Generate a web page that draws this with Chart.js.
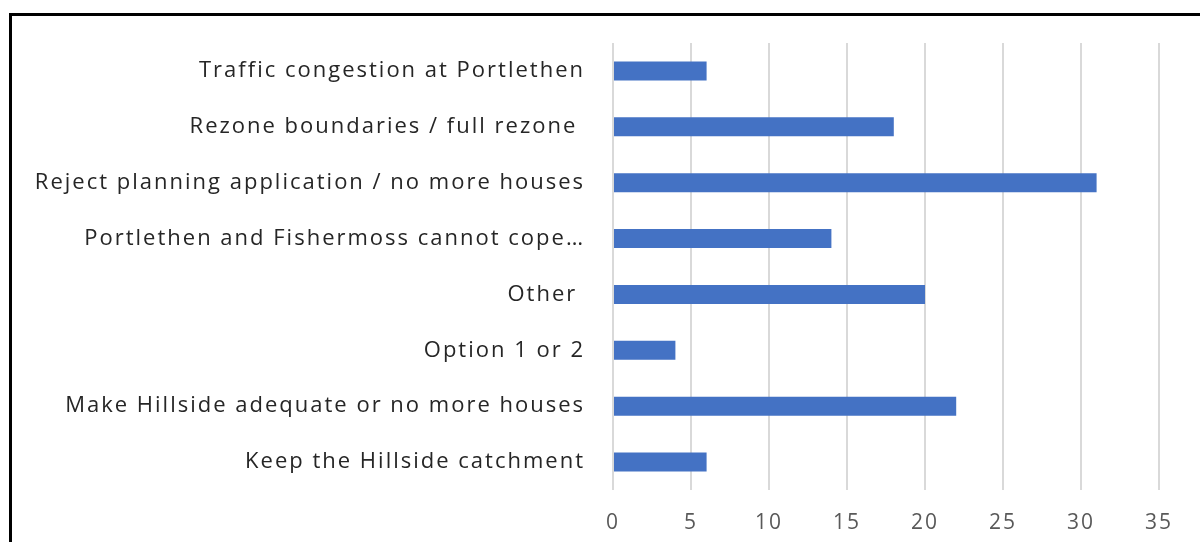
<!DOCTYPE html>
<html lang="en">
<head>
  <meta charset="UTF-8" />
  <title>Responses</title>
  <script src="https://cdn.jsdelivr.net/npm/chart.js"></script>
  <style>
    html, body { margin: 0; padding: 0; background: #fff; }
    #wrap { position: relative; width: 1200px; height: 542px; overflow: hidden; }
    canvas { position: absolute; left: 0; top: 0; }
    #frame { position: absolute; left: 9px; top: 13px; width: 1300px; height: 600px;
             border-top: 3px solid #000; border-left: 3px solid #000; pointer-events: none; }
  </style>
</head>
<body>
<div id="wrap">
  <canvas id="chart" width="1200" height="542"></canvas>
  <div id="frame"></div>
</div>
<script>
  const categories = [
    'Traffic congestion at Portlethen',
    'Rezone boundaries / full rezone ',
    'Reject planning application / no more houses',
    'Portlethen and Fishermoss cannot cope…',
    'Other ',
    'Option 1 or 2',
    'Make Hillside adequate or no more houses',
    'Keep the Hillside catchment'
  ];
  const counts = [6, 18, 31, 14, 20, 4, 22, 6];
  const xTicks = [0, 5, 10, 15, 20, 25, 30, 35];

  const fontFamily = '"Open Sans", "Noto Sans", sans-serif';

  // the source picture has slightly stretched text, widen it a bit
  const wideText = {
    id: 'wideText',
    beforeDraw(chart) { chart.ctx.letterSpacing = '2px'; }
  };

  new Chart(document.getElementById('chart').getContext('2d'), {
    type: 'bar',
    data: {
      labels: categories,
      datasets: [{
        data: counts,
        backgroundColor: '#4472c4',
        borderWidth: 0,
        barPercentage: 0.34,
        categoryPercentage: 1
      }]
    },
    options: {
      indexAxis: 'y',
      responsive: false,
      animation: false,
      layout: { padding: { left: 0, top: 43, right: 41, bottom: 0 } },
      plugins: { legend: { display: false }, tooltip: { enabled: false } },
      scales: {
        x: {
          min: 0,
          max: xTicks[xTicks.length - 1],
          afterBuildTicks: s => { s.ticks = xTicks.map(v => ({ value: v })); },
          afterFit: s => { s.height = 52; },
          grid: { color: '#d9d9d9', lineWidth: 2, drawTicks: false },
          border: { display: false },
          ticks: { color: '#595959', padding: 20, font: { family: fontFamily, size: 21 } }
        },
        y: {
          afterFit: s => { s.width = 613; },
          grid: { display: false, drawTicks: false },
          border: { display: false },
          ticks: { color: '#262626', padding: 28, font: { family: fontFamily, size: 22 } }
        }
      }
    },
    plugins: [wideText]
  });
</script>
</body>
</html>
